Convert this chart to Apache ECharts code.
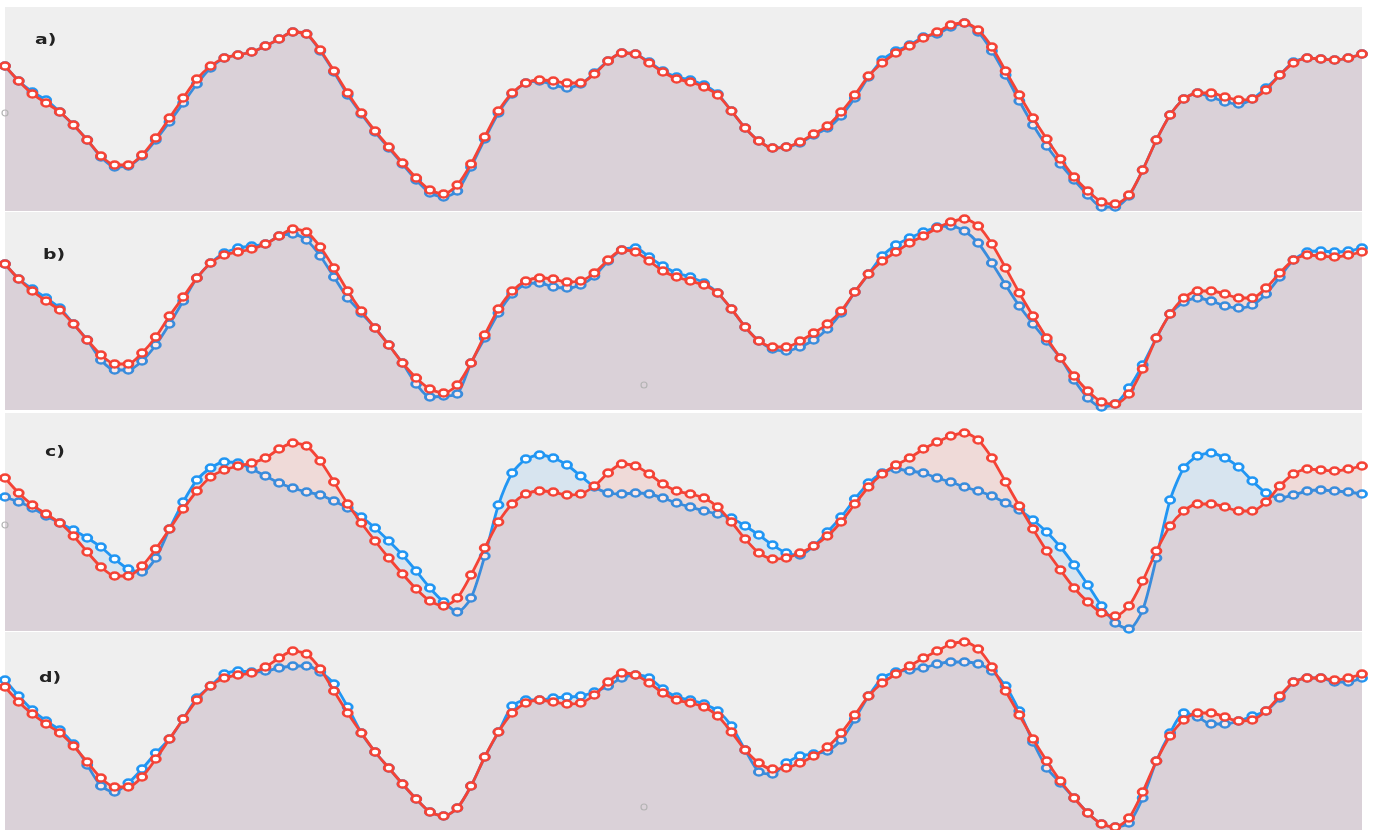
<!DOCTYPE html>
<html>
<head>
<meta charset="utf-8">
<script src="https://cdn.jsdelivr.net/npm/echarts@6/dist/echarts.min.js"></script>
<style>
html,body{margin:0;padding:0;background:#ffffff;}
#chart{width:1376px;height:830px;}
</style>
</head>
<body>
<div id="chart"></div>
<script>
// x categories (100 samples)
var categories = [];
for (var i = 1; i <= 100; i++) categories.push(String(i));

var panelLabels = ['a)', 'b)', 'c)', 'd)'];

// Panel a
var aRed = [145,130,117,108,99,86,71,55,46,46, 56,73,93,113,132,145,153,156,159,165, 172,179,177,161,140,118,98,80,64,48, 33,21,17,26,47,74,100,118,128,131, 130,128,128,137,150,158,157,148,139,132, 129,124,116,100,83,70,63,64,69,77, 85,99,116,135,148,158,165,173,179,186, 188,181,164,140,116,93,72,52,34,20, 9,7,16,41,71,96,112,118,118,114, 111,112,121,136,148,153,152,151,153,157];
var aBlue = [145,130,119,111,99,86,71,54,44,45, 55,71,89,108,127,143,153,156,159,165, 172,179,177,160,139,116,97,79,63,47, 31,18,14,20,44,72,98,117,128,130, 126,123,127,138,150,158,157,149,140,134, 131,126,117,100,83,70,63,64,68,76, 83,95,113,134,151,160,166,174,177,184, 188,179,160,136,110,86,65,47,31,16, 4,4,15,41,71,96,112,118,114,109, 107,112,123,136,149,153,152,151,153,157];

// Panel b
var bRed = [146,131,119,109,100,86,70,55,46,46, 57,73,94,113,132,147,155,158,161,166, 174,181,178,163,142,119,99,82,65,47, 32,21,17,25,47,75,101,119,129,132, 131,128,129,137,150,160,158,149,139,133, 129,125,117,101,83,69,63,63,69,77, 86,99,118,136,149,158,167,174,182,188, 191,184,166,142,117,94,72,52,34,19, 8,6,16,41,72,96,112,119,119,116, 112,112,122,137,150,155,154,153,155,158];
var bBlue = [146,131,121,112,102,86,70,50,40,40, 49,65,86,109,132,147,157,162,164,166, 174,176,170,154,133,112,97,82,65,47, 26,13,14,16,47,72,97,116,126,127, 123,122,125,134,149,160,162,153,144,137, 133,127,117,101,83,69,61,59,63,70, 81,97,118,136,154,165,172,178,183,184, 179,167,147,125,104,86,69,52,30,12, 3,6,22,45,72,96,108,112,109,104, 102,105,116,133,150,158,159,158,159,162];

// Panel c
var cRed = [153,138,126,117,108,95,79,64,55,55, 65,82,102,122,140,154,161,165,168,173, 182,188,185,170,149,127,108,90,73,57, 42,30,25,33,56,83,109,127,137,140, 139,136,137,145,158,167,165,157,147,140, 137,133,124,109,92,78,72,73,78,85, 95,109,127,144,157,166,173,182,189,195, 198,191,173,149,125,102,80,61,43,29, 18,15,25,50,80,105,120,127,127,124, 120,120,129,145,157,162,161,160,162,165];
var cBlue = [134,129,123,115,108,101,93,84,72,62, 59,73,102,129,151,163,169,168,162,155, 148,143,139,136,130,123,114,103,90,76, 60,43,29,19,33,75,126,158,172,176, 173,166,155,144,138,137,138,137,133,128, 124,120,117,113,105,96,86,78,76,85, 99,114,132,148,158,162,160,158,153,149, 144,140,135,128,121,111,99,84,66,46, 25,8,2,21,73,131,163,175,178,173, 164,150,138,133,136,140,141,140,139,137];

// Panel d
var dRed = [143,128,116,106,97,84,68,52,43,43, 53,71,91,111,130,144,152,155,157,163, 172,179,176,161,139,117,97,78,62,46, 31,18,14,22,44,73,98,117,127,130, 128,126,127,135,148,157,155,147,137,130, 127,123,114,98,80,67,61,62,67,74, 83,97,115,134,147,156,164,172,179,186, 188,181,163,139,115,91,69,49,32,17, 6,3,12,38,69,94,110,117,117,113, 109,110,119,134,148,152,152,150,152,156];
var dBlue = [150,134,120,109,100,86,65,44,38,47, 61,77,91,111,132,144,156,159,158,159, 162,164,164,158,146,123,97,78,62,46, 31,18,14,22,44,73,98,124,130,130, 132,133,134,138,144,152,155,152,141,133, 130,126,119,104,80,58,56,67,74,76, 79,90,111,134,152,158,160,162,166,168, 168,166,159,144,119,88,62,47,32,17, 6,3,7,32,69,97,117,113,106,106, 109,114,119,132,148,152,152,148,148,152];

var panelData = [[aBlue, aRed], [bBlue, bRed], [cBlue, cRed], [dBlue, dRed]];

// layout (pixels)
var panelTops = [7, 212, 413, 632];
var panelBottoms = [211, 410, 631, 830];
var labelPos = [[35, 40], [43, 255], [45, 452], [39, 678]];

var BLUE = '#2196f3', RED = '#f44336';

var grids = [], xAxes = [], yAxes = [], series = [], graphics = [];
for (var p = 0; p < 4; p++) {
  var h = panelBottoms[p] - panelTops[p];
  grids.push({left: 5, right: 14, top: panelTops[p], height: h, show: true,
    backgroundColor: '#efefef', borderWidth: 0, containLabel: false});
  xAxes.push({type: 'category', gridIndex: p, data: categories, boundaryGap: false, show: false});
  yAxes.push({type: 'value', gridIndex: p, min: 0, max: h, show: false});
  var cols = [BLUE, RED];
  for (var s = 0; s < 2; s++) {
    series.push({
      type: 'line', xAxisIndex: p, yAxisIndex: p,
      data: panelData[p][s],
      smooth: 0.25,
      symbol: 'circle', symbolSize: [9, 7], showSymbol: true,
      lineStyle: {color: cols[s], width: 2.8},
      itemStyle: {color: '#ffffff', borderColor: cols[s], borderWidth: 2.6},
      areaStyle: {color: s === 0 ? 'rgba(33,150,243,0.16)' : 'rgba(244,67,54,0.17)'},
      emphasis: {disabled: true},
      z: 2 + s
    });
  }
  graphics.push({type: 'text', x: labelPos[p][0], y: labelPos[p][1], scaleX: 1.35,
    style: {text: panelLabels[p], fill: '#222', font: 'bold 14px "DejaVu Sans", sans-serif',
      textVerticalAlign: 'middle'}, z: 10});
}
// small grey ring artefacts
[[5,113],[644,385],[5,525],[644,807]].forEach(function(c){
  graphics.push({type: 'circle', shape: {cx: c[0], cy: c[1], r: 3},
    style: {fill: 'none', stroke: '#b4b4b4', lineWidth: 1.2}, z: 10});
});

var chart = echarts.init(document.getElementById('chart'), null, {renderer: 'canvas'});
chart.setOption({
  animation: false,
  backgroundColor: '#ffffff',
  grid: grids, xAxis: xAxes, yAxis: yAxes, series: series,
  graphic: graphics,
  tooltip: {show: false}
});
</script>
</body>
</html>
